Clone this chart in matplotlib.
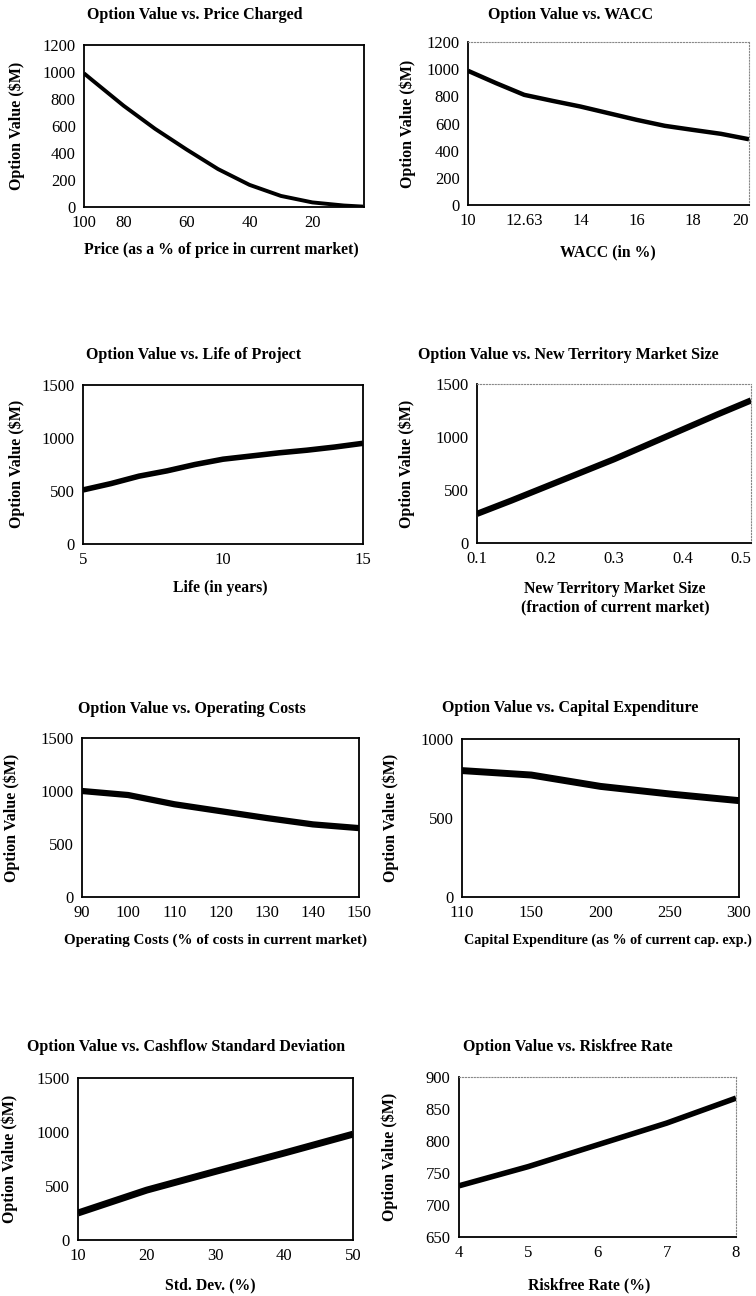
import numpy as np
import matplotlib
matplotlib.use("Agg")
import matplotlib.pyplot as plt

plt.rcParams['font.family'] = ['Liberation Serif', 'DejaVu Serif']

# ---- data ----
price_x = [92.6, 90, 80, 70, 60, 50, 40, 30, 20, 10, 3.9]
price_v = [990, 940, 750, 579, 426, 281, 164, 82, 34, 11, 3]
price_ticks = [92.6, 80, 60, 40, 20]
price_ticklabels = ['100', '80', '60', '40', '20']

wacc_cats = ['10', '11', '12.63', '13', '14', '15', '16', '17', '18', '19', '20']
wacc_v = [988, 897, 811, 767, 725, 676, 627, 583, 553, 524, 484]

life_x = [5, 6, 7, 8, 9, 10, 11, 12, 13, 14, 15]
life_v = [510, 570, 640, 690, 750, 800, 830, 860, 885, 915, 950]

terr_x = [0.1, 0.15, 0.2, 0.25, 0.3, 0.35, 0.4, 0.45, 0.5]
terr_v = [275, 400, 530, 660, 790, 930, 1070, 1210, 1345]

opc_x = [90, 100, 110, 120, 130, 140, 150]
opc_v = [1000, 962, 875, 810, 745, 685, 650]

capex_cats = ['110', '150', '200', '250', '300']
capex_v = [800, 772, 700, 652, 610]

sd_x = [10, 20, 30, 40, 50]
sd_v = [250, 462, 635, 805, 980]

rf_x = [4, 5, 6, 7, 8]
rf_v = [730, 760, 794, 828, 867]

W, H = 756, 1296
fig = plt.figure(figsize=(W / 100, H / 100), dpi=100)


def make_ax(l, r, t, b, dotted=False):
    ax = fig.add_axes([l / W, 1 - b / H, (r - l) / W, (b - t) / H])
    ax.tick_params(length=0, labelsize=12, pad=6)
    for s in ax.spines.values():
        s.set_linewidth(1.3)
    if dotted:
        for s in ('top', 'right'):
            ax.spines[s].set_linestyle(':')
            ax.spines[s].set_color('#888888')
            ax.spines[s].set_linewidth(0.8)
    return ax


def ftext(x, y, s, **kw):
    fig.text(x / W, 1 - y / H, s, ha='center', va='center', **kw)


def titles(tx, ty, title, yx, yy, xl, xlx, xly, xls=11.3):
    ftext(tx, ty, title, fontsize=11.5, fontweight='bold')
    ftext(yx, yy, 'Option Value ($M)', fontsize=11.5, fontweight='bold', rotation=90)
    ftext(xlx, xly, xl, fontsize=xls, fontweight='bold')


lw = 3.2

# 1 price
ax = make_ax(84, 364, 45, 207)
ax.plot(price_x, price_v, color='black', lw=2.8, solid_capstyle='butt')
ax.set_xlim(92.6, 3.6)
ax.set_ylim(0, 1200)
ax.set_yticks(range(0, 1201, 200))
ax.set_xticks(price_ticks)
ax.set_xticklabels(price_ticklabels)
titles(195, 15, 'Option Value vs. Price Charged', 17, 126,
       'Price (as a % of price in current market)', 221, 250)

# 2 wacc
ax = make_ax(468, 749, 42, 205, dotted=True)
ax.plot(range(len(wacc_v)), wacc_v, color='black', lw=lw, solid_capstyle='butt')
ax.set_xlim(0, len(wacc_v) - 1)
ax.set_ylim(0, 1200)
ax.set_yticks(range(0, 1201, 200))
ax.set_xticks(range(0, len(wacc_cats), 2))
ax.set_xticklabels(wacc_cats[::2])
ax.get_xticklabels()[-1].set_horizontalalignment('right')
titles(570, 15, 'Option Value vs. WACC', 408, 124, 'WACC (in %)', 608, 252)

# 3 life
ax = make_ax(83, 363, 385, 544)
ax.plot(life_x, life_v, color='black', lw=4, solid_capstyle='butt')
ax.set_xlim(5, 15)
ax.set_ylim(0, 1500)
ax.set_yticks([0, 500, 1000, 1500])
ax.set_xticks([5, 10, 15])
titles(194, 355, 'Option Value vs. Life of Project', 17, 464, 'Life (in years)', 220, 588)

# 4 territory
ax = make_ax(477, 751, 384, 543, dotted=True)
ax.plot(terr_x, terr_v, color='black', lw=4.5, solid_capstyle='butt')
ax.set_xlim(0.1, 0.5)
ax.set_ylim(0, 1500)
ax.set_yticks([0, 500, 1000, 1500])
ax.set_xticks([0.1, 0.2, 0.3, 0.4, 0.5])
ax.set_xticklabels(['0.1', '0.2', '0.3', '0.4', '0.5'])
ax.get_xticklabels()[-1].set_horizontalalignment('right')
titles(568, 355, 'Option Value vs. New Territory Market Size', 407, 464,
       'New Territory Market Size\n(fraction of current market)', 615, 598)

# 5 operating costs
ax = make_ax(82, 359, 738, 897)
ax.plot(opc_x, opc_v, color='black', lw=4.5, solid_capstyle='butt')
ax.set_xlim(90, 150)
ax.set_ylim(0, 1500)
ax.set_yticks([0, 500, 1000, 1500])
ax.set_xticks(opc_x)
titles(192, 709, 'Option Value vs. Operating Costs', 12, 818,
       'Operating Costs (% of costs in current market)', 216, 940, xls=10.8)

# 6 capex
ax = make_ax(462, 739, 739, 897)
ax.plot(range(len(capex_v)), capex_v, color='black', lw=5, solid_capstyle='butt')
ax.set_xlim(0, len(capex_v) - 1)
ax.set_ylim(0, 1000)
ax.set_yticks([0, 500, 1000])
ax.set_xticks(range(len(capex_cats)))
ax.set_xticklabels(capex_cats)
titles(570, 708, 'Option Value vs. Capital Expenditure', 391, 818,
       'Capital Expenditure (as % of current cap. exp.)', 608, 940, xls=10.2)

# 7 std dev
ax = make_ax(78, 353, 1078, 1240)
ax.plot(sd_x, sd_v, color='black', lw=5, solid_capstyle='butt')
ax.set_xlim(10, 50)
ax.set_ylim(0, 1500)
ax.set_yticks([0, 500, 1000, 1500])
ax.set_xticks([10, 20, 30, 40, 50])
titles(186, 1047, 'Option Value vs. Cashflow Standard Deviation', 10, 1159,
       'Std. Dev. (%)', 210, 1285)

# 8 riskfree
ax = make_ax(459, 736, 1077, 1237, dotted=True)
ax.plot(rf_x, rf_v, color='black', lw=4, solid_capstyle='butt')
ax.set_xlim(4, 8)
ax.set_ylim(650, 900)
ax.set_yticks(range(650, 901, 50))
ax.set_xticks(rf_x)
titles(568, 1047, 'Option Value vs. Riskfree Rate', 390, 1157,
       'Riskfree Rate (%)', 589, 1285)

fig.savefig('out.png', dpi=100)
